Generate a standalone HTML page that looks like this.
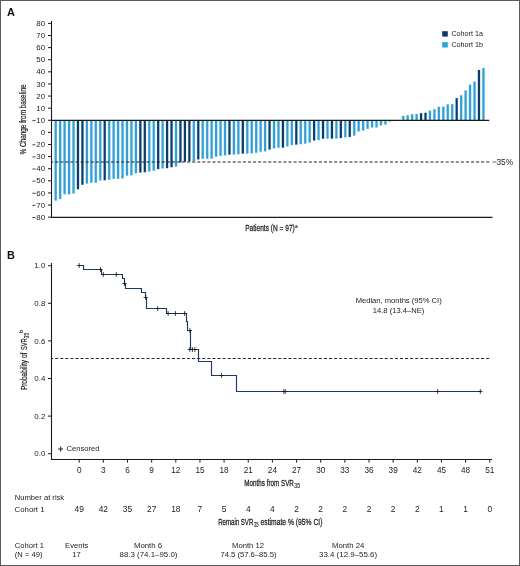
<!DOCTYPE html><html><head><meta charset="utf-8"><style>
html,body{margin:0;padding:0;background:#fff;}
#wrap{position:relative;width:520px;height:566px;overflow:hidden;background:#fff;}
#bd{position:absolute;left:0;top:0;width:520px;height:566px;box-sizing:border-box;border:1px solid #5b5b5b;}
svg{display:block;will-change:transform;font-family:"Liberation Sans",sans-serif;}
</style></head><body><div id="wrap">
<svg width="520" height="566" viewBox="0 0 520 566">
<rect x="0" y="0" width="520" height="566" fill="#fff"/>
<text x="6.9" y="16.2" font-size="10.9" font-weight="bold" fill="#111">A</text>
<rect x="54.6" y="120.3" width="2.2" height="80.2" fill="#3a9dd2" stroke="#d4f6ff" stroke-width="1.1" paint-order="stroke"/>
<rect x="59.06" y="120.3" width="2.2" height="78.7" fill="#3a9dd2" stroke="#d4f6ff" stroke-width="1.1" paint-order="stroke"/>
<rect x="63.51" y="120.3" width="2.2" height="74" fill="#3a9dd2" stroke="#d4f6ff" stroke-width="1.1" paint-order="stroke"/>
<rect x="67.97" y="120.3" width="2.2" height="74" fill="#3a9dd2" stroke="#d4f6ff" stroke-width="1.1" paint-order="stroke"/>
<rect x="72.42" y="120.3" width="2.2" height="73.1" fill="#3a9dd2" stroke="#d4f6ff" stroke-width="1.1" paint-order="stroke"/>
<rect x="76.88" y="120.3" width="2.2" height="68.9" fill="#133866" stroke="#d4f6ff" stroke-width="1.1" paint-order="stroke"/>
<rect x="81.33" y="120.3" width="2.2" height="64.4" fill="#133866" stroke="#d4f6ff" stroke-width="1.1" paint-order="stroke"/>
<rect x="85.79" y="120.3" width="2.2" height="63.2" fill="#3a9dd2" stroke="#d4f6ff" stroke-width="1.1" paint-order="stroke"/>
<rect x="90.24" y="120.3" width="2.2" height="62.3" fill="#3a9dd2" stroke="#d4f6ff" stroke-width="1.1" paint-order="stroke"/>
<rect x="94.7" y="120.3" width="2.2" height="62.3" fill="#3a9dd2" stroke="#d4f6ff" stroke-width="1.1" paint-order="stroke"/>
<rect x="99.16" y="120.3" width="2.2" height="60" fill="#3a9dd2" stroke="#d4f6ff" stroke-width="1.1" paint-order="stroke"/>
<rect x="103.61" y="120.3" width="2.2" height="59.9" fill="#133866" stroke="#d4f6ff" stroke-width="1.1" paint-order="stroke"/>
<rect x="108.07" y="120.3" width="2.2" height="59.4" fill="#3a9dd2" stroke="#d4f6ff" stroke-width="1.1" paint-order="stroke"/>
<rect x="112.52" y="120.3" width="2.2" height="58.5" fill="#3a9dd2" stroke="#d4f6ff" stroke-width="1.1" paint-order="stroke"/>
<rect x="116.98" y="120.3" width="2.2" height="58.5" fill="#3a9dd2" stroke="#d4f6ff" stroke-width="1.1" paint-order="stroke"/>
<rect x="121.43" y="120.3" width="2.2" height="58" fill="#3a9dd2" stroke="#d4f6ff" stroke-width="1.1" paint-order="stroke"/>
<rect x="125.89" y="120.3" width="2.2" height="55.3" fill="#3a9dd2" stroke="#d4f6ff" stroke-width="1.1" paint-order="stroke"/>
<rect x="130.34" y="120.3" width="2.2" height="55" fill="#3a9dd2" stroke="#d4f6ff" stroke-width="1.1" paint-order="stroke"/>
<rect x="134.8" y="120.3" width="2.2" height="52.9" fill="#3a9dd2" stroke="#d4f6ff" stroke-width="1.1" paint-order="stroke"/>
<rect x="139.25" y="120.3" width="2.2" height="52.2" fill="#133866" stroke="#d4f6ff" stroke-width="1.1" paint-order="stroke"/>
<rect x="143.71" y="120.3" width="2.2" height="51.9" fill="#133866" stroke="#d4f6ff" stroke-width="1.1" paint-order="stroke"/>
<rect x="148.17" y="120.3" width="2.2" height="51.2" fill="#3a9dd2" stroke="#d4f6ff" stroke-width="1.1" paint-order="stroke"/>
<rect x="152.62" y="120.3" width="2.2" height="50.4" fill="#3a9dd2" stroke="#d4f6ff" stroke-width="1.1" paint-order="stroke"/>
<rect x="157.08" y="120.3" width="2.2" height="48.7" fill="#133866" stroke="#d4f6ff" stroke-width="1.1" paint-order="stroke"/>
<rect x="161.53" y="120.3" width="2.2" height="48.1" fill="#3a9dd2" stroke="#d4f6ff" stroke-width="1.1" paint-order="stroke"/>
<rect x="165.99" y="120.3" width="2.2" height="47.8" fill="#133866" stroke="#d4f6ff" stroke-width="1.1" paint-order="stroke"/>
<rect x="170.44" y="120.3" width="2.2" height="46.9" fill="#133866" stroke="#d4f6ff" stroke-width="1.1" paint-order="stroke"/>
<rect x="174.9" y="120.3" width="2.2" height="46.1" fill="#3a9dd2" stroke="#d4f6ff" stroke-width="1.1" paint-order="stroke"/>
<rect x="179.35" y="120.3" width="2.2" height="42.1" fill="#133866" stroke="#d4f6ff" stroke-width="1.1" paint-order="stroke"/>
<rect x="183.81" y="120.3" width="2.2" height="41.4" fill="#133866" stroke="#d4f6ff" stroke-width="1.1" paint-order="stroke"/>
<rect x="188.27" y="120.3" width="2.2" height="41" fill="#133866" stroke="#d4f6ff" stroke-width="1.1" paint-order="stroke"/>
<rect x="192.72" y="120.3" width="2.2" height="40.8" fill="#3a9dd2" stroke="#d4f6ff" stroke-width="1.1" paint-order="stroke"/>
<rect x="197.18" y="120.3" width="2.2" height="39.1" fill="#133866" stroke="#d4f6ff" stroke-width="1.1" paint-order="stroke"/>
<rect x="201.63" y="120.3" width="2.2" height="38.4" fill="#3a9dd2" stroke="#d4f6ff" stroke-width="1.1" paint-order="stroke"/>
<rect x="206.09" y="120.3" width="2.2" height="38.4" fill="#3a9dd2" stroke="#d4f6ff" stroke-width="1.1" paint-order="stroke"/>
<rect x="210.54" y="120.3" width="2.2" height="38.3" fill="#3a9dd2" stroke="#d4f6ff" stroke-width="1.1" paint-order="stroke"/>
<rect x="215" y="120.3" width="2.2" height="36.3" fill="#3a9dd2" stroke="#d4f6ff" stroke-width="1.1" paint-order="stroke"/>
<rect x="219.45" y="120.3" width="2.2" height="35.5" fill="#3a9dd2" stroke="#d4f6ff" stroke-width="1.1" paint-order="stroke"/>
<rect x="223.91" y="120.3" width="2.2" height="35" fill="#3a9dd2" stroke="#d4f6ff" stroke-width="1.1" paint-order="stroke"/>
<rect x="228.36" y="120.3" width="2.2" height="34.3" fill="#133866" stroke="#d4f6ff" stroke-width="1.1" paint-order="stroke"/>
<rect x="232.82" y="120.3" width="2.2" height="34.1" fill="#3a9dd2" stroke="#d4f6ff" stroke-width="1.1" paint-order="stroke"/>
<rect x="237.28" y="120.3" width="2.2" height="33.8" fill="#3a9dd2" stroke="#d4f6ff" stroke-width="1.1" paint-order="stroke"/>
<rect x="241.73" y="120.3" width="2.2" height="33.3" fill="#133866" stroke="#d4f6ff" stroke-width="1.1" paint-order="stroke"/>
<rect x="246.19" y="120.3" width="2.2" height="33.3" fill="#3a9dd2" stroke="#d4f6ff" stroke-width="1.1" paint-order="stroke"/>
<rect x="250.64" y="120.3" width="2.2" height="33" fill="#3a9dd2" stroke="#d4f6ff" stroke-width="1.1" paint-order="stroke"/>
<rect x="255.1" y="120.3" width="2.2" height="32.4" fill="#3a9dd2" stroke="#d4f6ff" stroke-width="1.1" paint-order="stroke"/>
<rect x="259.55" y="120.3" width="2.2" height="31.3" fill="#3a9dd2" stroke="#d4f6ff" stroke-width="1.1" paint-order="stroke"/>
<rect x="264.01" y="120.3" width="2.2" height="31" fill="#3a9dd2" stroke="#d4f6ff" stroke-width="1.1" paint-order="stroke"/>
<rect x="268.46" y="120.3" width="2.2" height="29.2" fill="#133866" stroke="#d4f6ff" stroke-width="1.1" paint-order="stroke"/>
<rect x="272.92" y="120.3" width="2.2" height="28" fill="#3a9dd2" stroke="#d4f6ff" stroke-width="1.1" paint-order="stroke"/>
<rect x="277.37" y="120.3" width="2.2" height="27.3" fill="#3a9dd2" stroke="#d4f6ff" stroke-width="1.1" paint-order="stroke"/>
<rect x="281.83" y="120.3" width="2.2" height="27.3" fill="#133866" stroke="#d4f6ff" stroke-width="1.1" paint-order="stroke"/>
<rect x="286.29" y="120.3" width="2.2" height="26" fill="#3a9dd2" stroke="#d4f6ff" stroke-width="1.1" paint-order="stroke"/>
<rect x="290.74" y="120.3" width="2.2" height="24.7" fill="#3a9dd2" stroke="#d4f6ff" stroke-width="1.1" paint-order="stroke"/>
<rect x="295.2" y="120.3" width="2.2" height="24.3" fill="#133866" stroke="#d4f6ff" stroke-width="1.1" paint-order="stroke"/>
<rect x="299.65" y="120.3" width="2.2" height="23.8" fill="#3a9dd2" stroke="#d4f6ff" stroke-width="1.1" paint-order="stroke"/>
<rect x="304.11" y="120.3" width="2.2" height="23.3" fill="#3a9dd2" stroke="#d4f6ff" stroke-width="1.1" paint-order="stroke"/>
<rect x="308.56" y="120.3" width="2.2" height="22.2" fill="#3a9dd2" stroke="#d4f6ff" stroke-width="1.1" paint-order="stroke"/>
<rect x="313.02" y="120.3" width="2.2" height="20.2" fill="#133866" stroke="#d4f6ff" stroke-width="1.1" paint-order="stroke"/>
<rect x="317.47" y="120.3" width="2.2" height="19.7" fill="#3a9dd2" stroke="#d4f6ff" stroke-width="1.1" paint-order="stroke"/>
<rect x="321.93" y="120.3" width="2.2" height="18.4" fill="#133866" stroke="#d4f6ff" stroke-width="1.1" paint-order="stroke"/>
<rect x="326.39" y="120.3" width="2.2" height="18.3" fill="#3a9dd2" stroke="#d4f6ff" stroke-width="1.1" paint-order="stroke"/>
<rect x="330.84" y="120.3" width="2.2" height="18.3" fill="#133866" stroke="#d4f6ff" stroke-width="1.1" paint-order="stroke"/>
<rect x="335.3" y="120.3" width="2.2" height="18.1" fill="#3a9dd2" stroke="#d4f6ff" stroke-width="1.1" paint-order="stroke"/>
<rect x="339.75" y="120.3" width="2.2" height="17.7" fill="#133866" stroke="#d4f6ff" stroke-width="1.1" paint-order="stroke"/>
<rect x="344.21" y="120.3" width="2.2" height="17" fill="#3a9dd2" stroke="#d4f6ff" stroke-width="1.1" paint-order="stroke"/>
<rect x="348.66" y="120.3" width="2.2" height="16.6" fill="#133866" stroke="#d4f6ff" stroke-width="1.1" paint-order="stroke"/>
<rect x="353.12" y="120.3" width="2.2" height="15.3" fill="#3a9dd2" stroke="#d4f6ff" stroke-width="1.1" paint-order="stroke"/>
<rect x="357.57" y="120.3" width="2.2" height="11.1" fill="#3a9dd2" stroke="#d4f6ff" stroke-width="1.1" paint-order="stroke"/>
<rect x="362.03" y="120.3" width="2.2" height="10.2" fill="#3a9dd2" stroke="#d4f6ff" stroke-width="1.1" paint-order="stroke"/>
<rect x="366.48" y="120.3" width="2.2" height="8.5" fill="#3a9dd2" stroke="#d4f6ff" stroke-width="1.1" paint-order="stroke"/>
<rect x="370.94" y="120.3" width="2.2" height="7.1" fill="#3a9dd2" stroke="#d4f6ff" stroke-width="1.1" paint-order="stroke"/>
<rect x="375.4" y="120.3" width="2.2" height="7.1" fill="#3a9dd2" stroke="#d4f6ff" stroke-width="1.1" paint-order="stroke"/>
<rect x="379.85" y="120.3" width="2.2" height="5" fill="#3a9dd2" stroke="#d4f6ff" stroke-width="1.1" paint-order="stroke"/>
<rect x="384.31" y="120.3" width="2.2" height="4.2" fill="#3a9dd2" stroke="#d4f6ff" stroke-width="1.1" paint-order="stroke"/>
<rect x="388.76" y="120.3" width="2.2" height="1.1" fill="#3a9dd2" stroke="#d4f6ff" stroke-width="1.1" paint-order="stroke"/>
<rect x="402.13" y="116" width="2.2" height="4.3" fill="#3a9dd2" stroke="#d4f6ff" stroke-width="1.1" paint-order="stroke"/>
<rect x="406.58" y="115.3" width="2.2" height="5" fill="#3a9dd2" stroke="#d4f6ff" stroke-width="1.1" paint-order="stroke"/>
<rect x="411.04" y="114.3" width="2.2" height="6" fill="#3a9dd2" stroke="#d4f6ff" stroke-width="1.1" paint-order="stroke"/>
<rect x="415.5" y="114.1" width="2.2" height="6.2" fill="#3a9dd2" stroke="#d4f6ff" stroke-width="1.1" paint-order="stroke"/>
<rect x="419.95" y="113.2" width="2.2" height="7.1" fill="#133866" stroke="#d4f6ff" stroke-width="1.1" paint-order="stroke"/>
<rect x="424.41" y="112.8" width="2.2" height="7.5" fill="#133866" stroke="#d4f6ff" stroke-width="1.1" paint-order="stroke"/>
<rect x="428.86" y="110.7" width="2.2" height="9.6" fill="#3a9dd2" stroke="#d4f6ff" stroke-width="1.1" paint-order="stroke"/>
<rect x="433.32" y="109.3" width="2.2" height="11" fill="#3a9dd2" stroke="#d4f6ff" stroke-width="1.1" paint-order="stroke"/>
<rect x="437.77" y="106.9" width="2.2" height="13.4" fill="#3a9dd2" stroke="#d4f6ff" stroke-width="1.1" paint-order="stroke"/>
<rect x="442.23" y="106.7" width="2.2" height="13.6" fill="#3a9dd2" stroke="#d4f6ff" stroke-width="1.1" paint-order="stroke"/>
<rect x="446.68" y="104.4" width="2.2" height="15.9" fill="#3a9dd2" stroke="#d4f6ff" stroke-width="1.1" paint-order="stroke"/>
<rect x="451.14" y="104.2" width="2.2" height="16.1" fill="#3a9dd2" stroke="#d4f6ff" stroke-width="1.1" paint-order="stroke"/>
<rect x="455.59" y="98.2" width="2.2" height="22.1" fill="#133866" stroke="#d4f6ff" stroke-width="1.1" paint-order="stroke"/>
<rect x="460.05" y="95.3" width="2.2" height="25" fill="#3a9dd2" stroke="#d4f6ff" stroke-width="1.1" paint-order="stroke"/>
<rect x="464.51" y="90.5" width="2.2" height="29.8" fill="#3a9dd2" stroke="#d4f6ff" stroke-width="1.1" paint-order="stroke"/>
<rect x="468.96" y="84.7" width="2.2" height="35.6" fill="#3a9dd2" stroke="#d4f6ff" stroke-width="1.1" paint-order="stroke"/>
<rect x="473.42" y="81.6" width="2.2" height="38.7" fill="#3a9dd2" stroke="#d4f6ff" stroke-width="1.1" paint-order="stroke"/>
<rect x="477.87" y="70" width="2.2" height="50.3" fill="#133866" stroke="#d4f6ff" stroke-width="1.1" paint-order="stroke"/>
<rect x="482.33" y="68" width="2.2" height="52.3" fill="#3a9dd2" stroke="#d4f6ff" stroke-width="1.1" paint-order="stroke"/>
<line x1="51" y1="120.3" x2="489.3" y2="120.3" stroke="#1a1a1a" stroke-width="1.2"/>
<line x1="51.8" y1="162" x2="489.5" y2="162" stroke="#222" stroke-width="1.2" stroke-dasharray="3.1 1.97" stroke-dashoffset="1.62"/>
<line x1="51.5" y1="21" x2="51.5" y2="217.9" stroke="#1a1a1a" stroke-width="1.1"/>
<line x1="51" y1="217.3" x2="492.5" y2="217.3" stroke="#1a1a1a" stroke-width="1.3"/>
<line x1="48" y1="23.4" x2="51.5" y2="23.4" stroke="#1a1a1a" stroke-width="1"/>
<text x="45.1" y="26.05" font-size="7.9" text-anchor="end" fill="#222">80</text>
<line x1="48" y1="35.51" x2="51.5" y2="35.51" stroke="#1a1a1a" stroke-width="1"/>
<text x="45.1" y="38.16" font-size="7.9" text-anchor="end" fill="#222">70</text>
<line x1="48" y1="47.62" x2="51.5" y2="47.62" stroke="#1a1a1a" stroke-width="1"/>
<text x="45.1" y="50.27" font-size="7.9" text-anchor="end" fill="#222">60</text>
<line x1="48" y1="59.73" x2="51.5" y2="59.73" stroke="#1a1a1a" stroke-width="1"/>
<text x="45.1" y="62.38" font-size="7.9" text-anchor="end" fill="#222">50</text>
<line x1="48" y1="71.84" x2="51.5" y2="71.84" stroke="#1a1a1a" stroke-width="1"/>
<text x="45.1" y="74.49" font-size="7.9" text-anchor="end" fill="#222">40</text>
<line x1="48" y1="83.95" x2="51.5" y2="83.95" stroke="#1a1a1a" stroke-width="1"/>
<text x="45.1" y="86.6" font-size="7.9" text-anchor="end" fill="#222">30</text>
<line x1="48" y1="96.06" x2="51.5" y2="96.06" stroke="#1a1a1a" stroke-width="1"/>
<text x="45.1" y="98.71" font-size="7.9" text-anchor="end" fill="#222">20</text>
<line x1="48" y1="108.17" x2="51.5" y2="108.17" stroke="#1a1a1a" stroke-width="1"/>
<text x="45.1" y="110.82" font-size="7.9" text-anchor="end" fill="#222">10</text>
<line x1="48" y1="120.28" x2="51.5" y2="120.28" stroke="#1a1a1a" stroke-width="1"/>
<text x="45.1" y="122.93" font-size="7.9" text-anchor="end" fill="#222">10</text>
<line x1="32.4" y1="120.58" x2="35.5" y2="120.58" stroke="#222" stroke-width="0.85"/>
<line x1="48" y1="132.39" x2="51.5" y2="132.39" stroke="#1a1a1a" stroke-width="1"/>
<text x="45.1" y="135.04" font-size="7.9" text-anchor="end" fill="#222">0</text>
<line x1="48" y1="144.5" x2="51.5" y2="144.5" stroke="#1a1a1a" stroke-width="1"/>
<text x="45.1" y="147.15" font-size="7.9" text-anchor="end" fill="#222">20</text>
<line x1="32.4" y1="144.8" x2="35.5" y2="144.8" stroke="#222" stroke-width="0.85"/>
<line x1="48" y1="156.61" x2="51.5" y2="156.61" stroke="#1a1a1a" stroke-width="1"/>
<text x="45.1" y="159.26" font-size="7.9" text-anchor="end" fill="#222">30</text>
<line x1="32.4" y1="156.91" x2="35.5" y2="156.91" stroke="#222" stroke-width="0.85"/>
<line x1="48" y1="168.72" x2="51.5" y2="168.72" stroke="#1a1a1a" stroke-width="1"/>
<text x="45.1" y="171.37" font-size="7.9" text-anchor="end" fill="#222">40</text>
<line x1="32.4" y1="169.02" x2="35.5" y2="169.02" stroke="#222" stroke-width="0.85"/>
<line x1="48" y1="180.83" x2="51.5" y2="180.83" stroke="#1a1a1a" stroke-width="1"/>
<text x="45.1" y="183.48" font-size="7.9" text-anchor="end" fill="#222">50</text>
<line x1="32.4" y1="181.13" x2="35.5" y2="181.13" stroke="#222" stroke-width="0.85"/>
<line x1="48" y1="192.94" x2="51.5" y2="192.94" stroke="#1a1a1a" stroke-width="1"/>
<text x="45.1" y="195.59" font-size="7.9" text-anchor="end" fill="#222">60</text>
<line x1="32.4" y1="193.24" x2="35.5" y2="193.24" stroke="#222" stroke-width="0.85"/>
<line x1="48" y1="205.05" x2="51.5" y2="205.05" stroke="#1a1a1a" stroke-width="1"/>
<text x="45.1" y="207.7" font-size="7.9" text-anchor="end" fill="#222">70</text>
<line x1="32.4" y1="205.35" x2="35.5" y2="205.35" stroke="#222" stroke-width="0.85"/>
<line x1="48" y1="217.16" x2="51.5" y2="217.16" stroke="#1a1a1a" stroke-width="1"/>
<text x="45.1" y="219.81" font-size="7.9" text-anchor="end" fill="#222">80</text>
<line x1="32.4" y1="217.46" x2="35.5" y2="217.46" stroke="#222" stroke-width="0.85"/>
<text x="496.5" y="164.7" font-size="8.3" fill="#222">35%</text>
<line x1="492.4" y1="162" x2="496.6" y2="162" stroke="#444" stroke-width="0.8"/>
<text transform="translate(26.2,154.5) rotate(-90)" font-size="8.9" fill="#222" stroke="#222" stroke-width="0.2" textLength="70.1" lengthAdjust="spacingAndGlyphs">% Change from baseline</text>
<text x="245.2" y="231.3" font-size="8.9" fill="#1e1e1e" stroke="#1e1e1e" stroke-width="0.26" textLength="49.6" lengthAdjust="spacingAndGlyphs">Patients (N = 97)</text>
<text x="295.1" y="227.8" font-size="5.2" fill="#2a2a2a" stroke="#2a2a2a" stroke-width="0.12" textLength="2.7" lengthAdjust="spacingAndGlyphs">a</text>
<rect x="442.2" y="31.2" width="5.6" height="5.4" fill="#133866"/>
<rect x="442.2" y="42.1" width="5.6" height="5.4" fill="#22a8dc"/>
<text x="451.4" y="36.4" font-size="7.2" fill="#222">Cohort 1a</text>
<text x="451.4" y="47.2" font-size="7.2" fill="#222">Cohort 1b</text>
<text x="6.9" y="258.8" font-size="10.9" font-weight="bold" fill="#111">B</text>
<line x1="51.5" y1="263" x2="51.5" y2="460" stroke="#1a1a1a" stroke-width="1.1"/>
<line x1="51" y1="459.5" x2="492.2" y2="459.5" stroke="#1a1a1a" stroke-width="1.2"/>
<line x1="48" y1="265.7" x2="51.5" y2="265.7" stroke="#1a1a1a" stroke-width="1"/>
<text x="45.3" y="268.3" font-size="7.9" text-anchor="end" fill="#222">1.0</text>
<line x1="48" y1="303.3" x2="51.5" y2="303.3" stroke="#1a1a1a" stroke-width="1"/>
<text x="45.3" y="305.9" font-size="7.9" text-anchor="end" fill="#222">0.8</text>
<line x1="48" y1="340.9" x2="51.5" y2="340.9" stroke="#1a1a1a" stroke-width="1"/>
<text x="45.3" y="343.5" font-size="7.9" text-anchor="end" fill="#222">0.6</text>
<line x1="48" y1="378.5" x2="51.5" y2="378.5" stroke="#1a1a1a" stroke-width="1"/>
<text x="45.3" y="381.1" font-size="7.9" text-anchor="end" fill="#222">0.4</text>
<line x1="48" y1="416.1" x2="51.5" y2="416.1" stroke="#1a1a1a" stroke-width="1"/>
<text x="45.3" y="418.7" font-size="7.9" text-anchor="end" fill="#222">0.2</text>
<line x1="48" y1="453.7" x2="51.5" y2="453.7" stroke="#1a1a1a" stroke-width="1"/>
<text x="45.3" y="456.3" font-size="7.9" text-anchor="end" fill="#222">0.0</text>
<line x1="79.2" y1="459.5" x2="79.2" y2="462.6" stroke="#1a1a1a" stroke-width="1"/>
<text x="79.2" y="472.6" font-size="8.2" text-anchor="middle" fill="#222">0</text>
<line x1="103.35" y1="459.5" x2="103.35" y2="462.6" stroke="#1a1a1a" stroke-width="1"/>
<text x="103.35" y="472.6" font-size="8.2" text-anchor="middle" fill="#222">3</text>
<line x1="127.5" y1="459.5" x2="127.5" y2="462.6" stroke="#1a1a1a" stroke-width="1"/>
<text x="127.5" y="472.6" font-size="8.2" text-anchor="middle" fill="#222">6</text>
<line x1="151.65" y1="459.5" x2="151.65" y2="462.6" stroke="#1a1a1a" stroke-width="1"/>
<text x="151.65" y="472.6" font-size="8.2" text-anchor="middle" fill="#222">9</text>
<line x1="175.8" y1="459.5" x2="175.8" y2="462.6" stroke="#1a1a1a" stroke-width="1"/>
<text x="175.8" y="472.6" font-size="8.2" text-anchor="middle" fill="#222">12</text>
<line x1="199.95" y1="459.5" x2="199.95" y2="462.6" stroke="#1a1a1a" stroke-width="1"/>
<text x="199.95" y="472.6" font-size="8.2" text-anchor="middle" fill="#222">15</text>
<line x1="224.1" y1="459.5" x2="224.1" y2="462.6" stroke="#1a1a1a" stroke-width="1"/>
<text x="224.1" y="472.6" font-size="8.2" text-anchor="middle" fill="#222">18</text>
<line x1="248.25" y1="459.5" x2="248.25" y2="462.6" stroke="#1a1a1a" stroke-width="1"/>
<text x="248.25" y="472.6" font-size="8.2" text-anchor="middle" fill="#222">21</text>
<line x1="272.4" y1="459.5" x2="272.4" y2="462.6" stroke="#1a1a1a" stroke-width="1"/>
<text x="272.4" y="472.6" font-size="8.2" text-anchor="middle" fill="#222">24</text>
<line x1="296.55" y1="459.5" x2="296.55" y2="462.6" stroke="#1a1a1a" stroke-width="1"/>
<text x="296.55" y="472.6" font-size="8.2" text-anchor="middle" fill="#222">27</text>
<line x1="320.7" y1="459.5" x2="320.7" y2="462.6" stroke="#1a1a1a" stroke-width="1"/>
<text x="320.7" y="472.6" font-size="8.2" text-anchor="middle" fill="#222">30</text>
<line x1="344.85" y1="459.5" x2="344.85" y2="462.6" stroke="#1a1a1a" stroke-width="1"/>
<text x="344.85" y="472.6" font-size="8.2" text-anchor="middle" fill="#222">33</text>
<line x1="369" y1="459.5" x2="369" y2="462.6" stroke="#1a1a1a" stroke-width="1"/>
<text x="369" y="472.6" font-size="8.2" text-anchor="middle" fill="#222">36</text>
<line x1="393.15" y1="459.5" x2="393.15" y2="462.6" stroke="#1a1a1a" stroke-width="1"/>
<text x="393.15" y="472.6" font-size="8.2" text-anchor="middle" fill="#222">39</text>
<line x1="417.3" y1="459.5" x2="417.3" y2="462.6" stroke="#1a1a1a" stroke-width="1"/>
<text x="417.3" y="472.6" font-size="8.2" text-anchor="middle" fill="#222">42</text>
<line x1="441.45" y1="459.5" x2="441.45" y2="462.6" stroke="#1a1a1a" stroke-width="1"/>
<text x="441.45" y="472.6" font-size="8.2" text-anchor="middle" fill="#222">45</text>
<line x1="465.6" y1="459.5" x2="465.6" y2="462.6" stroke="#1a1a1a" stroke-width="1"/>
<text x="465.6" y="472.6" font-size="8.2" text-anchor="middle" fill="#222">48</text>
<line x1="489.75" y1="459.5" x2="489.75" y2="462.6" stroke="#1a1a1a" stroke-width="1"/>
<text x="489.75" y="472.6" font-size="8.2" text-anchor="middle" fill="#222">51</text>
<line x1="52" y1="358.5" x2="490" y2="358.5" stroke="#2a2a2a" stroke-width="1.15" stroke-dasharray="3.1 1.97" stroke-dashoffset="1.88"/>
<path d="M79.2 265.5 H83.5 V269.5 H101.5 V274.5 H122.5 V278.5 H124.5 V283.5 H125.5 V288.5 H141.5 V292.5 H145.5 V297.5 H146.5 V308.5 H166.5 V313.5 H186.5 V321.5 H187.5 V330.5 H190.5 V349.5 H198.5 V361.5 H211.5 V375.5 H236.5 V391.5 H481.5" fill="none" stroke="#1c3968" stroke-width="1.15" stroke-linejoin="miter"/>
<path d="M77.1 265.5h4.2M79.2 263.1v4.8M98.4 269.5h4.2M100.5 267.1v4.8M101.2 274.5h4.2M103.3 272.1v4.8M114.2 274.5h4.2M116.3 272.1v4.8M122.4 283.5h4.2M124.5 281.1v4.8M143.6 297.5h4.2M145.7 295.1v4.8M155.6 308.5h4.2M157.7 306.1v4.8M166 313.5h4.2M168.1 311.1v4.8M173.3 313.5h4.2M175.4 311.1v4.8M182.5 313.5h4.2M184.6 311.1v4.8M187.8 330.5h4.2M189.9 328.1v4.8M187.7 349.5h4.2M189.8 347.1v4.8M190.3 349.5h4.2M192.4 347.1v4.8M192.8 349.5h4.2M194.9 347.1v4.8M219.4 375.5h4.2M221.5 373.1v4.8M281.8 391.5h4.2M283.9 389.1v4.8M283.2 391.5h4.2M285.3 389.1v4.8M435.6 391.5h4.2M437.7 389.1v4.8M478.2 391.5h4.2M480.3 389.1v4.8" fill="none" stroke="#1a1a1a" stroke-width="0.85"/>
<text transform="translate(26.8,390.1) rotate(-90)" font-size="8.9" fill="#222" stroke="#222" stroke-width="0.2" textLength="37.4" lengthAdjust="spacingAndGlyphs">Probability of</text>
<text transform="translate(26.8,350.1) rotate(-90)" font-size="8.9" fill="#222" stroke="#222" stroke-width="0.2" textLength="11.8" lengthAdjust="spacingAndGlyphs">SVR</text>
<text transform="translate(29,338.3) rotate(-90)" font-size="7.2" fill="#222" stroke="#222" stroke-width="0.12" textLength="5.5" lengthAdjust="spacingAndGlyphs">35</text>
<text transform="translate(23.4,332.7) rotate(-90)" font-size="5.2" fill="#222" stroke="#222" stroke-width="0.1" textLength="2.8" lengthAdjust="spacingAndGlyphs">b</text>
<path d="M58.2 448.9h4.9M60.65 446.4v5" stroke="#222" stroke-width="1.05" fill="none"/>
<text x="66.6" y="451.2" font-size="7.6" fill="#222">Censored</text>
<text x="398.7" y="302.5" font-size="7.6" text-anchor="middle" fill="#222">Median, months (95% CI)</text>
<text x="398.5" y="312.5" font-size="7.6" text-anchor="middle" fill="#222">14.8 (13.4–NE)</text>
<text x="244.3" y="485.5" font-size="8.9" fill="#1e1e1e" stroke="#1e1e1e" stroke-width="0.26" textLength="49.6" lengthAdjust="spacingAndGlyphs">Months from SVR</text>
<text x="294.3" y="487.8" font-size="7.2" fill="#2a2a2a" stroke="#2a2a2a" stroke-width="0.15" textLength="5.7" lengthAdjust="spacingAndGlyphs">35</text>
<text x="14.8" y="499.5" font-size="7.6" fill="#222">Number at risk</text>
<text x="14.6" y="511.7" font-size="7.8" fill="#222">Cohort 1</text>
<text x="79.2" y="511.9" font-size="8.4" text-anchor="middle" fill="#222">49</text>
<text x="103.35" y="511.9" font-size="8.4" text-anchor="middle" fill="#222">42</text>
<text x="127.5" y="511.9" font-size="8.4" text-anchor="middle" fill="#222">35</text>
<text x="151.65" y="511.9" font-size="8.4" text-anchor="middle" fill="#222">27</text>
<text x="175.8" y="511.9" font-size="8.4" text-anchor="middle" fill="#222">18</text>
<text x="199.95" y="511.9" font-size="8.4" text-anchor="middle" fill="#222">7</text>
<text x="224.1" y="511.9" font-size="8.4" text-anchor="middle" fill="#222">5</text>
<text x="248.25" y="511.9" font-size="8.4" text-anchor="middle" fill="#222">4</text>
<text x="272.4" y="511.9" font-size="8.4" text-anchor="middle" fill="#222">4</text>
<text x="296.55" y="511.9" font-size="8.4" text-anchor="middle" fill="#222">2</text>
<text x="320.7" y="511.9" font-size="8.4" text-anchor="middle" fill="#222">2</text>
<text x="344.85" y="511.9" font-size="8.4" text-anchor="middle" fill="#222">2</text>
<text x="369" y="511.9" font-size="8.4" text-anchor="middle" fill="#222">2</text>
<text x="393.15" y="511.9" font-size="8.4" text-anchor="middle" fill="#222">2</text>
<text x="417.3" y="511.9" font-size="8.4" text-anchor="middle" fill="#222">2</text>
<text x="441.45" y="511.9" font-size="8.4" text-anchor="middle" fill="#222">1</text>
<text x="465.6" y="511.9" font-size="8.4" text-anchor="middle" fill="#222">1</text>
<text x="489.75" y="511.9" font-size="8.4" text-anchor="middle" fill="#222">0</text>
<text x="218.2" y="524.8" font-size="8.9" fill="#1e1e1e" stroke="#1e1e1e" stroke-width="0.26" textLength="35.1" lengthAdjust="spacingAndGlyphs">Remain SVR</text>
<text x="253.9" y="526.6" font-size="7.2" fill="#2a2a2a" stroke="#2a2a2a" stroke-width="0.15" textLength="4.6" lengthAdjust="spacingAndGlyphs">35</text>
<text x="260.6" y="524.8" font-size="8.9" fill="#1e1e1e" stroke="#1e1e1e" stroke-width="0.26" textLength="61.9" lengthAdjust="spacingAndGlyphs">estimate % (95% CI)</text>
<text x="14.8" y="547.8" font-size="7.6" fill="#222">Cohort 1</text>
<text x="14.8" y="556.8" font-size="7.6" fill="#222">(N = 49)</text>
<text x="76.7" y="547.8" font-size="7.6" text-anchor="middle" fill="#222">Events</text>
<text x="76.6" y="556.8" font-size="7.6" text-anchor="middle" fill="#222">17</text>
<text x="148" y="547.8" font-size="7.6" text-anchor="middle" fill="#222" textLength="28.2" lengthAdjust="spacingAndGlyphs">Month 6</text>
<text x="148.5" y="556.8" font-size="7.6" text-anchor="middle" fill="#222" textLength="57.8" lengthAdjust="spacingAndGlyphs">88.3 (74.1–95.0)</text>
<text x="248" y="547.8" font-size="7.6" text-anchor="middle" fill="#222" textLength="31.8" lengthAdjust="spacingAndGlyphs">Month 12</text>
<text x="248.45" y="556.8" font-size="7.6" text-anchor="middle" fill="#222" textLength="56" lengthAdjust="spacingAndGlyphs">74.5 (57.6–85.5)</text>
<text x="348.15" y="547.8" font-size="7.6" text-anchor="middle" fill="#222" textLength="32.2" lengthAdjust="spacingAndGlyphs">Month 24</text>
<text x="348.05" y="556.8" font-size="7.6" text-anchor="middle" fill="#222" textLength="58" lengthAdjust="spacingAndGlyphs">33.4 (12.9–55.6)</text>
</svg><div id="bd"></div></div></body></html>
